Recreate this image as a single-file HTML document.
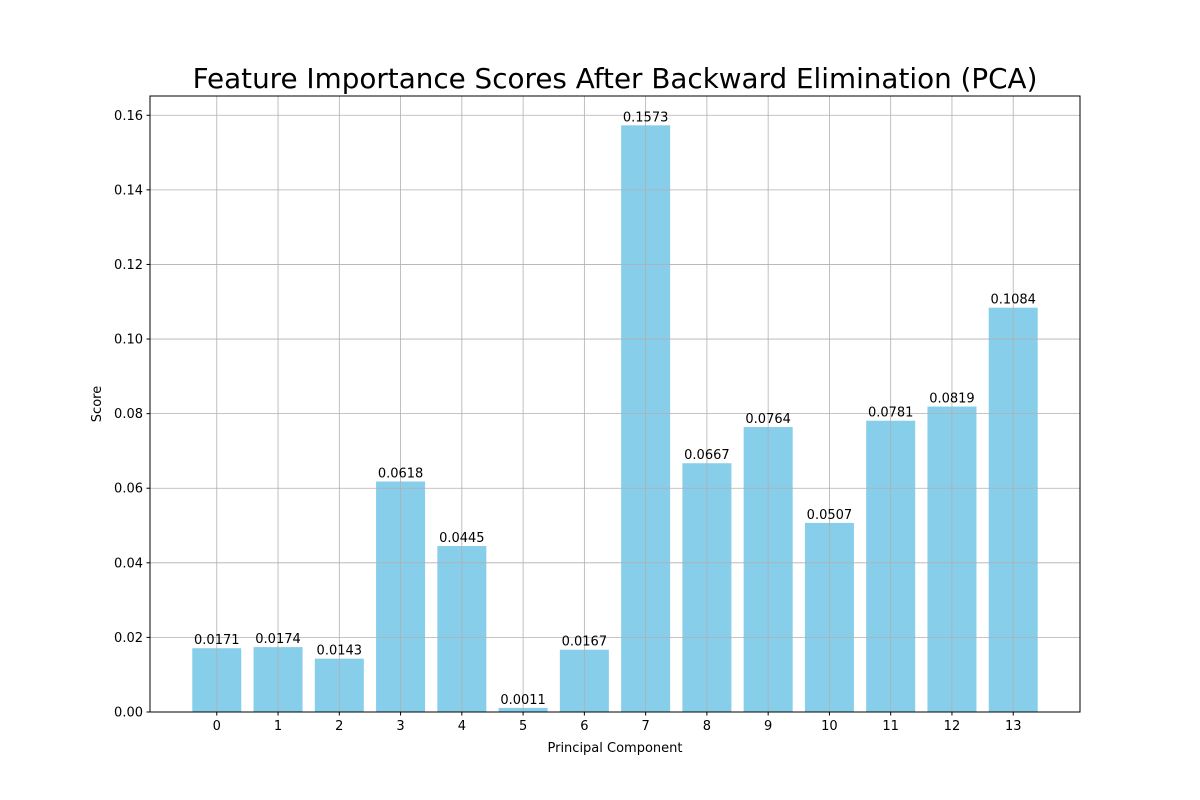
<!DOCTYPE html>
<html><head><meta charset="utf-8"><style>
body{margin:0;background:#fff;}
svg{display:block;font-family:"DejaVu Sans","Liberation Sans",sans-serif;}
</style></head><body>
<svg id="chart" width="1200" height="800">
<rect width="1200" height="800" fill="#fff"/>
<text x="615" y="88" font-size="27.8" text-anchor="middle">Feature Importance Scores After Backward Elimination (PCA)</text>
<g id="bars"></g><g id="grid"></g><g id="labels"></g><g id="ticks"></g>
<rect x="150" y="96" width="930" height="616" fill="none" stroke="#000" stroke-width="1"/>
<text x="615" y="752" font-size="13" text-anchor="middle">Principal Component</text>
<text transform="translate(101,404) rotate(-90)" font-size="13" text-anchor="middle">Score</text>
</svg>
<script>
const categories=["0","1","2","3","4","5","6","7","8","9","10","11","12","13"];
const scores=[0.0171,0.0174,0.0143,0.0618,0.0445,0.0011,0.0167,0.1573,0.0667,0.0764,0.0507,0.0781,0.0819,0.1084];
const valueLabels=["0.0171","0.0174","0.0143","0.0618","0.0445","0.0011","0.0167","0.1573","0.0667","0.0764","0.0507","0.0781","0.0819","0.1084"];
const yTicks=[0,0.02,0.04,0.06,0.08,0.10,0.12,0.14,0.16];
const yTickLabels=["0.00","0.02","0.04","0.06","0.08","0.10","0.12","0.14","0.16"];
const L=150,R=1080,T=96,B=712;
const ymax=Math.max(...scores)*1.05;
const xmin=-0.4-0.05*(categories.length-1+0.8),xmax=categories.length-1+0.4+0.05*(categories.length-1+0.8);
const X=v=>L+(v-xmin)/(xmax-xmin)*(R-L);
const Y=v=>B-v/ymax*(B-T);
const NS="http://www.w3.org/2000/svg";
function mk(p,tag,a){const e=document.createElementNS(NS,tag);for(const k in a)e.setAttribute(k,a[k]);document.getElementById(p).appendChild(e);return e;}
scores.forEach((v,i)=>{
 const r=mk("bars","rect",{x:X(i-0.4),y:Y(v),width:X(i+0.4)-X(i-0.4),height:B-Y(v),fill:"#87ceeb"});
 
 
 const t=mk("labels","text",{x:X(i),y:Y(v)-4,"font-size":13,"text-anchor":"middle"});
 t.textContent=valueLabels[i];
 
 
 const g=mk("grid","line",{x1:X(i),x2:X(i),y1:T,y2:B,stroke:"#b0b0b0","stroke-width":0.8});
 
 
 mk("ticks","line",{x1:X(i),x2:X(i),y1:B,y2:B+3.5,stroke:"#000"});
 const xl=mk("ticks","text",{x:X(i),y:B+18,"font-size":13,"text-anchor":"middle"});
 xl.textContent=categories[i];
 
 
});
yTicks.forEach((v,i)=>{
 const g=mk("grid","line",{x1:L,x2:R,y1:Y(v),y2:Y(v),stroke:"#b0b0b0","stroke-width":0.8});
 
 
 mk("ticks","line",{x1:L-3.5,x2:L,y1:Y(v),y2:Y(v),stroke:"#000"});
 const t=mk("ticks","text",{x:L-7,y:Y(v)+4.5,"font-size":13,"text-anchor":"end"});
 t.textContent=yTickLabels[i];
 
 
});
</script>
</body></html>
